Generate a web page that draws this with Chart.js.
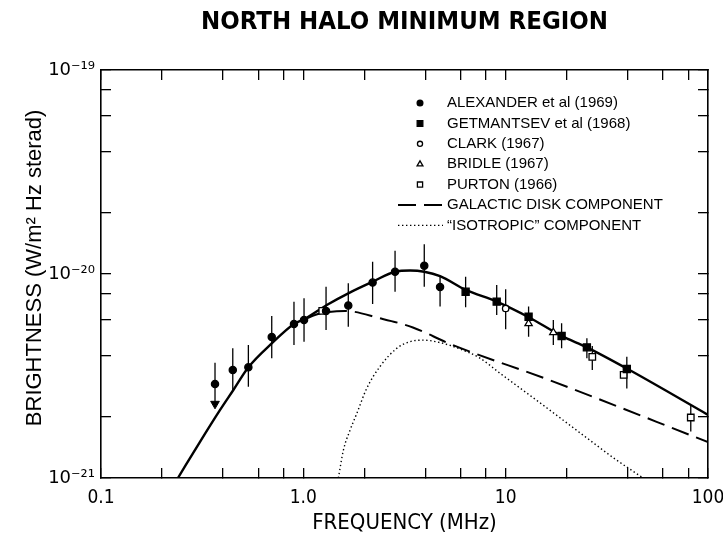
<!DOCTYPE html>
<html>
<head>
<meta charset="utf-8">
<script src="https://cdn.jsdelivr.net/npm/chart.js@4.4.0/dist/chart.umd.min.js"></script>
<style>
  html, body { margin: 0; padding: 0; background: #fff; }
  canvas { display: block; }
</style>
</head>
<body>
<canvas id="halo_canvas" width="723" height="539"></canvas>
<script>
// frequency in MHz, brightness in W/m^2 Hz sterad
var alexFreq = [0.366, 0.448, 0.535, 0.698, 0.899, 1.008, 1.295, 1.668, 2.20, 2.84, 3.96, 4.74];
var alexVal  = [2.89e-21, 3.38e-21, 3.49e-21, 4.91e-21, 5.69e-21, 5.95e-21, 6.59e-21, 7.01e-21, 9.08e-21, 1.026e-20, 1.099e-20, 8.63e-21];
var alexHi   = [3.67e-21, 4.32e-21, 4.49e-21, 6.23e-21, 7.32e-21, 7.60e-21, 8.67e-21, 9.00e-21, 1.148e-20, 1.30e-20, 1.40e-20, 9.70e-21];
var alexLo   = [2.31e-21, 2.70e-21, 2.80e-21, 3.86e-21, 4.49e-21, 4.66e-21, 5.31e-21, 5.52e-21, 7.13e-21, 8.19e-21, 8.67e-21, 6.92e-21];

var getFreq = [6.34, 9.03, 12.98, 18.9, 25.2, 39.7];
var getVal  = [8.19e-21, 7.32e-21, 6.17e-21, 4.97e-21, 4.37e-21, 3.42e-21];
var getHi   = [9.70e-21, 8.83e-21, 6.92e-21, 5.73e-21, 4.84e-21, 3.93e-21];
var getLo   = [6.87e-21, 6.30e-21, 4.93e-21, 4.32e-21, 3.86e-21, 2.75e-21];

var clarkFreq = [10.0];
var clarkVal  = [6.78e-21];
var clarkHi   = [8.41e-21];
var clarkLo   = [5.36e-21];

var bridleFreq = [12.98, 17.2];
var bridleVal  = [5.72e-21, 5.17e-21];
var bridleHi   = [null, 5.95e-21];
var bridleLo   = [null, 4.49e-21];

var purtonFreq = [1.24, 26.8, 38.3, 82.2];
var purtonVal  = [6.59e-21, 3.92e-21, 3.20e-21, 1.98e-21];
var purtonHi   = [null, 4.44e-21, null, 2.28e-21];
var purtonLo   = [null, 3.38e-21, null, 1.69e-21];

// upper limit arrow on the lowest frequency point
var limitFreq = [0.366];
var limitTip  = [2.31e-21];

// model curves
var totalFreq = [0.240, 0.308, 0.387, 0.451, 0.535, 0.698, 0.899, 1.008, 1.306, 1.668, 2.20, 2.84, 3.37, 3.96, 4.74, 6.35, 9.03, 13.0, 18.9, 25.2, 39.7, 100];
var totalVal  = [1.0e-21, 1.50e-21, 2.15e-21, 2.70e-21, 3.49e-21, 4.57e-21, 5.69e-21, 6.00e-21, 7.05e-21, 8.04e-21, 9.16e-21, 1.026e-20, 1.040e-20, 1.026e-20, 9.77e-21, 8.36e-21, 7.32e-21, 6.14e-21, 4.97e-21, 4.37e-21, 3.44e-21, 2.04e-21];

var diskFreq = [1.008, 1.21, 1.607, 2.39, 3.48, 5.31, 16.6, 100];
var diskVal  = [6.00e-21, 6.40e-21, 6.59e-21, 6.07e-21, 5.47e-21, 4.54e-21, 3.01e-21, 1.50e-21];

var isoFreq = [1.49, 1.578, 1.703, 1.837, 2.057, 2.393, 2.895, 3.368, 3.917, 4.74, 5.84, 7.46, 9.38, 13.2, 18.6, 26.1, 34.7, 47.8];
var isoVal  = [1.0e-21, 1.37e-21, 1.72e-21, 2.07e-21, 2.75e-21, 3.52e-21, 4.32e-21, 4.66e-21, 4.74e-21, 4.61e-21, 4.32e-21, 3.87e-21, 3.26e-21, 2.54e-21, 1.97e-21, 1.53e-21, 1.24e-21, 1.0e-21];

// axes
var xTickValues = [0.1, 0.2, 0.4, 0.6, 0.8, 1, 2, 4, 6, 8, 10, 20, 40, 60, 80, 100];
var xMajor = [0.1, 1, 10, 100];
var xMajorLabels = ['0.1', '1.0', '10', '100'];
var yTickValues = [1e-21, 2e-21, 4e-21, 6e-21, 8e-21, 1e-20, 2e-20, 4e-20, 6e-20, 8e-20, 1e-19];
var yMajor = [1e-21, 1e-20, 1e-19];
var yMajorLabels = ['10\u207b\u00b2\u00b9', '10\u207b\u00b2\u2070', '10\u207b\u00b9\u2079'];

var legendLabels = ['ALEXANDER et al (1969)', 'GETMANTSEV et al (1968)', 'CLARK (1967)', 'BRIDLE (1967)', 'PURTON (1966)', 'GALACTIC DISK COMPONENT', '\u201cISOTROPIC\u201d COMPONENT'];

var narrow = '"Liberation Sans Narrow", "DejaVu Sans Condensed", sans-serif';
Chart.defaults.font.family = '"Liberation Sans", Arial, sans-serif';
Chart.defaults.color = '#000';

function toPoints(xs, ys) {
    var pts = [];
    for (var i = 0; i < xs.length; i++) {
        pts.push({x: xs[i], y: ys[i]});
    }
    return pts;
}

// each bar is two points and a gap
function errorBars(xs, lo, hi) {
    var pts = [];
    for (var i = 0; i < xs.length; i++) {
        if (lo[i] == null) continue;
        pts.push({x: xs[i], y: lo[i]}, {x: xs[i], y: hi[i]}, {x: xs[i], y: null});
    }
    return pts;
}

function labelFor(v, majors, labels) {
    for (var i = 0; i < majors.length; i++) {
        if (Math.abs(v / majors[i] - 1) < 1e-6) return labels[i];
    }
    return '';
}

var allBars = [].concat(
    errorBars(alexFreq, alexLo, alexHi),
    errorBars(getFreq, getLo, getHi),
    errorBars(clarkFreq, clarkLo, clarkHi),
    errorBars(bridleFreq, bridleLo, bridleHi),
    errorBars(purtonFreq, purtonLo, purtonHi)
);

function markerSet(label, xs, ys, style, radius, filled) {
    return {
        label: label,
        data: toPoints(xs, ys),
        showLine: false,
        pointStyle: style,
        pointRadius: radius,
        borderWidth: 1.3,
        borderColor: '#000',
        backgroundColor: filled ? '#000' : '#fff',
        order: 1
    };
}

var datasets = [
    markerSet(legendLabels[0], alexFreq, alexVal, 'circle', 3.6, true),
    markerSet(legendLabels[1], getFreq, getVal, 'rect', 5, true),
    markerSet(legendLabels[2], clarkFreq, clarkVal, 'circle', 3.2, false),
    markerSet(legendLabels[3], bridleFreq, bridleVal, 'triangle', 4.2, false),
    markerSet(legendLabels[4], purtonFreq, purtonVal, 'rect', 4.6, false),
    {
        label: legendLabels[5],
        data: toPoints(diskFreq, diskVal),
        borderColor: '#000',
        borderWidth: 2,
        borderDash: [18, 8],
        pointRadius: 0,
        cubicInterpolationMode: 'monotone',
        order: 5
    },
    {
        label: legendLabels[6],
        data: toPoints(isoFreq, isoVal),
        borderColor: '#000',
        borderWidth: 1.4,
        borderDash: [1.4, 2.6],
        pointRadius: 0,
        cubicInterpolationMode: 'monotone',
        order: 5
    },
    {
        data: toPoints(totalFreq, totalVal),
        borderColor: '#000',
        borderWidth: 2.4,
        pointRadius: 0,
        cubicInterpolationMode: 'monotone',
        order: 4
    },
    {
        data: allBars,
        borderColor: '#000',
        borderWidth: 1.3,
        pointRadius: 0,
        spanGaps: false,
        tension: 0,
        order: 8
    },
    {
        data: toPoints(limitFreq, limitTip),
        showLine: false,
        pointStyle: 'triangle',
        rotation: 180,
        pointRadius: 5,
        borderWidth: 1,
        borderColor: '#000',
        backgroundColor: '#000',
        order: 2
    }
];

// legend sits inside the plot, one row per series
var insetLegend = {
    id: 'insetLegend',
    afterDraw: function(chart) {
        var ctx = chart.ctx;
        var area = chart.chartArea;
        var row = 0;
        ctx.save();
        ctx.font = '15px "Liberation Sans", Arial, sans-serif';
        ctx.textBaseline = 'middle';
        chart.data.datasets.forEach(function(ds) {
            if (!ds.label) return;
            var y = area.top + 33 + row * 20.4;
            var mx = area.left + 319;
            ctx.save();
            ctx.strokeStyle = ds.borderColor;
            ctx.lineWidth = ds.borderWidth;
            if (ds.showLine === false) {
                ctx.fillStyle = ds.backgroundColor;
                Chart.helpers.drawPoint(ctx, {
                    pointStyle: ds.pointStyle,
                    radius: ds.pointRadius * 0.8,
                    rotation: 0,
                    borderWidth: ds.borderWidth
                }, mx, y);
            } else {
                ctx.setLineDash(ds.borderDash || []);
                ctx.beginPath();
                ctx.moveTo(area.left + 297, y);
                ctx.lineTo(area.left + 342, y);
                ctx.stroke();
            }
            ctx.restore();
            ctx.fillStyle = '#000';
            ctx.fillText(ds.label, area.left + 346, y);
            row++;
        });
        ctx.restore();
    }
};

function gridOpts() {
    return {drawOnChartArea: false, drawTicks: true, tickLength: -10, color: '#000', lineWidth: 1.3};
}

var borderOpts = {display: true, color: '#000', width: 1.6};

var options = {
    responsive: false,
    animation: false,
    layout: {padding: 0},
    plugins: {
        legend: {display: false},
        tooltip: {enabled: false},
        title: {display: false}
    },
    scales: {
        x: {
            type: 'logarithmic',
            position: 'bottom',
            min: 0.1,
            max: 100,
            afterBuildTicks: function(s) { s.ticks = xTickValues.map(function(v) { return {value: v}; }); },
            afterFit: function(s) { s.height = 61; s.paddingLeft = 0; s.paddingRight = 0; },
            grid: gridOpts(),
            border: borderOpts,
            ticks: {
                autoSkip: false, maxRotation: 0, padding: 19, color: '#000',
                font: {family: narrow, size: 19},
                callback: function(v) { return labelFor(v, xMajor, xMajorLabels); }
            },
            title: {
                display: true, text: 'FREQUENCY (MHz)', color: '#000',
                font: {family: narrow, size: 22}, padding: {top: 0, bottom: 3}
            }
        },
        x2: {
            type: 'logarithmic',
            position: 'top',
            min: 0.1,
            max: 100,
            afterBuildTicks: function(s) { s.ticks = xTickValues.map(function(v) { return {value: v}; }); },
            afterFit: function(s) { s.height = 70; s.paddingLeft = 0; s.paddingRight = 0; },
            grid: gridOpts(),
            border: borderOpts,
            ticks: {display: false},
            title: {
                display: true, text: 'NORTH HALO MINIMUM REGION', color: '#000',
                font: {family: narrow, size: 25.5, weight: 'bold'}, padding: {top: 7, bottom: 0}
            }
        },
        y: {
            type: 'logarithmic',
            position: 'left',
            min: 1e-21,
            max: 1e-19,
            afterBuildTicks: function(s) { s.ticks = yTickValues.map(function(v) { return {value: v}; }); },
            afterFit: function(s) { s.width = 101; s.paddingTop = 0; s.paddingBottom = 0; },
            grid: gridOpts(),
            border: borderOpts,
            ticks: {
                autoSkip: false, padding: 16, color: '#000',
                font: {family: '"DejaVu Sans", sans-serif', size: 18},
                callback: function(v) { return labelFor(v, yMajor, yMajorLabels); }
            },
            title: {
                display: true, text: '  BRIGHTNESS (W/m\u00b2 Hz sterad)', color: '#000',
                font: {size: 22}, padding: {top: 22, bottom: 0}
            }
        },
        y2: {
            type: 'logarithmic',
            position: 'right',
            min: 1e-21,
            max: 1e-19,
            afterBuildTicks: function(s) { s.ticks = yTickValues.map(function(v) { return {value: v}; }); },
            afterFit: function(s) { s.width = 15; s.paddingTop = 0; s.paddingBottom = 0; },
            grid: gridOpts(),
            border: borderOpts,
            ticks: {display: false}
        }
    }
};

var ctx1 = document.getElementById('halo_canvas');
var chart = new Chart(ctx1, {
    type: 'line',
    data: {datasets: datasets},
    options: options,
    plugins: [insetLegend]
});
</script>
</body>
</html>
